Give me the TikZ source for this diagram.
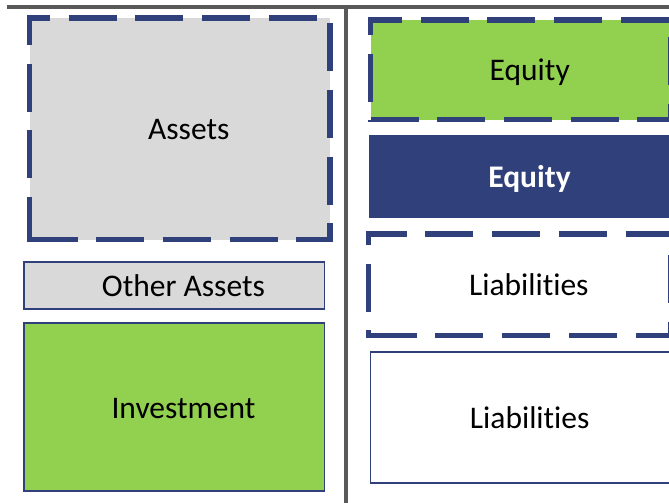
\documentclass[tikz,border=0pt]{standalone}
\usepackage{fontspec}
\setmainfont{Carlito}[Ligatures = CommonOff]
\definecolor{navy}{RGB}{47,64,122}
\definecolor{leaf}{RGB}{146,208,80}
\definecolor{ash}{RGB}{217,217,217}
\definecolor{rulegray}{RGB}{89,89,89}
\newcommand{\boxfont}{\fontsize{31.5pt}{38pt}\selectfont}
\tikzset{
  box/.style = {rectangle, anchor = north west, inner sep = 0pt, outer sep = 0pt,
                text height = 22pt, text depth = 0pt,
                execute at begin node = {\hspace*{18pt}}},
  thinbox/.style = {box, draw = navy, line width = 1.8pt},
  dashline/.style = {draw = navy, line width = 5.5pt, dash pattern = on 48pt off 18.7pt},
  frameline/.style = {draw = rulegray, line width = 4pt}
}
\begin{document}
\begin{tikzpicture}[x = 1pt, y = -1pt, font = \boxfont]
\useasboundingbox (0,0) rectangle (669,503);
\clip (0,0) rectangle (669,503);
% frame
\draw[frameline] (7,7)--(690,7);
\draw[frameline] (345.5,7)--(345.5,520);
% left column
\node[box, fill = ash, minimum width = 300.5pt, minimum height = 221.5pt] (assets) at (29.5,18) {Assets};
\node[thinbox, fill = ash, minimum width = 300.2pt, minimum height = 47pt] (otherassets) at (24.3,262) {Other Assets};
\node[thinbox, fill = leaf, minimum width = 300.2pt, minimum height = 168pt] (investment) at (24.3,323) {Investment};
% right column
\node[box, fill = leaf, minimum width = 300.5pt, minimum height = 99.7pt] (equitytop) at (370.5,20) {Equity};
\node[thinbox, fill = navy, text = white, font = \boxfont\bfseries, minimum width = 301pt, minimum height = 81.5pt] (equity) at (370,136) {Equity};
\node[box, fill = white, minimum width = 302.3pt, minimum height = 101.7pt] (liabtop) at (368.7,234) {Liabilities};
\node[thinbox, fill = white, minimum width = 300.5pt, minimum height = 131pt] (liab) at (370.5,351.7) {Liabilities};
% dashed outlines, one side at a time
\draw[dashline, dash phase = 24.75pt] ([xshift = -2.75pt]assets.north west)--([xshift = 2.75pt]assets.north east);
\draw[dashline, dash phase = 18.25pt] ([yshift = 2.75pt]assets.north west)--([yshift = -2.75pt]assets.south west);
\draw[dashline, dash phase = 58.75pt] ([yshift = 2.75pt]assets.north east)--([yshift = -2.75pt]assets.south east);
\draw[dashline, dash phase = 63.95pt] ([xshift = -2.75pt]assets.south west)--([xshift = 2.75pt]assets.south east);
\draw[dashline, dash phase = 13.75pt] ([xshift = -2.75pt]equitytop.north west)--([xshift = 2.75pt]equitytop.north east);
\draw[dashline, dash phase = 30.25pt] ([yshift = 2.75pt]equitytop.north west)--([yshift = -2.75pt]equitytop.south west);
\draw[dashline, dash phase = 46.95pt] ([yshift = 2.75pt]equitytop.north east)--([yshift = -2.75pt]equitytop.south east);
\draw[dashline, dash phase = 63.95pt] ([xshift = -2.75pt]equitytop.south west)--([xshift = 2.75pt]equitytop.south east);
\draw[dashline, dash phase = 7.25pt] ([xshift = -2.75pt]liabtop.north west)--([xshift = 2.75pt]liabtop.north east);
\draw[dashline, dash phase = 34.25pt] ([yshift = 2.75pt]liabtop.north west)--([yshift = -2.75pt]liabtop.south west);
\draw[dashline, dash phase = 42.95pt] ([yshift = 2.75pt]liabtop.north east)--([yshift = -2.75pt]liabtop.south east);
\draw[dashline, dash phase = 63.95pt] ([xshift = -2.75pt]liabtop.south west)--([xshift = 2.75pt]liabtop.south east);
\end{tikzpicture}
\end{document}
